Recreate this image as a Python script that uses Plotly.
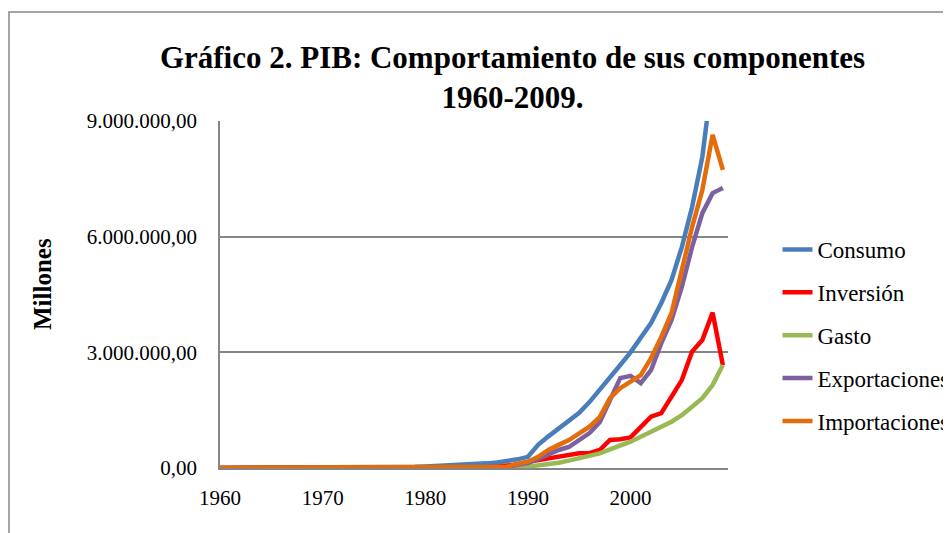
import plotly.graph_objects as go

years = list(range(1960, 2010))

consumo = [1500, 1700, 2000, 2300, 2700, 3100, 3500, 4000, 4500, 5100,
           5800, 6700, 7800, 9500, 12000, 14500, 17500, 21000, 25000, 31000,
           40000, 50000, 62000, 75000, 88000, 100000, 120000, 145000, 180000, 225000,
           290000, 600000, 820000, 1020000, 1200000, 1430000, 1710000, 2020000, 2330000, 2670000,
           3000000, 3400000, 3760000, 4280000, 4880000, 5730000, 6770000, 8070000, 10200000, 10800000]

inversion = [400, 450, 500, 550, 620, 700, 780, 870, 960, 1060,
             1200, 1400, 1650, 2000, 2600, 3300, 4200, 5200, 6200, 7000,
             8000, 9000, 10000, 11000, 13000, 16000, 22000, 35000, 55000, 90000,
             160000, 207000, 250000, 293000, 337000, 380000, 385000, 467000, 726000, 744000,
             795000, 1070000, 1330000, 1420000, 1850000, 2280000, 3020000, 3320000, 4030000, 2670000]

gasto = [300, 330, 360, 400, 440, 480, 530, 580, 640, 700,
         780, 870, 980, 1150, 1400, 1700, 2000, 2400, 2800, 3200,
         3800, 4400, 5000, 5600, 6300, 7200, 8500, 11000, 15000, 22000,
         35000, 60000, 95000, 138000, 190000, 250000, 311000, 380000, 484000, 570000,
         683000, 812000, 941000, 1060000, 1200000, 1370000, 1590000, 1810000, 2150000, 2670000]

exportaciones = [800, 850, 900, 950, 1000, 1050, 1100, 1150, 1250, 1350,
                 1500, 1800, 2000, 2800, 5500, 5000, 5200, 5600, 5400, 7500,
                 10000, 10500, 9000, 9000, 14000, 15500, 12000, 20000, 25000, 85000,
                 130000, 233000, 363000, 467000, 545000, 726000, 907000, 1190000, 1760000, 2330000,
                 2390000, 2200000, 2540000, 3240000, 3840000, 4700000, 5730000, 6610000, 7130000, 7260000]

importaciones = [600, 650, 700, 750, 800, 850, 900, 950, 1050, 1150,
                 1300, 1500, 1750, 2200, 3000, 3800, 4800, 6200, 7500, 8000,
                 9000, 10500, 12000, 10000, 12000, 14000, 18000, 25000, 35000, 110000,
                 163000, 290000, 467000, 600000, 726000, 900000, 1070000, 1320000, 1810000, 2070000,
                 2230000, 2410000, 2850000, 3400000, 4020000, 5130000, 6250000, 7210000, 8640000, 7730000]

series = [
    ("Consumo", consumo, "#4A7EBB"),
    ("Inversión", inversion, "#FF0000"),
    ("Gasto", gasto, "#98B954"),
    ("Exportaciones", exportaciones, "#7D60A0"),
    ("Importaciones", importaciones, "#E46C0A"),
]

y_ticks = [0, 3000000, 6000000, 9000000]
y_ticktext = ["0,00", "3.000.000,00", "6.000.000,00", "9.000.000,00"]
x_ticks = [1960, 1970, 1980, 1990, 2000]

font_family = "Liberation Serif, DejaVu Serif, serif"

# figure sized to the viewport minus the 8px page margin
W, H = 943, 525
# plot area in figure px
L, T, PW, PH = 212, 113, 508, 347

fig = go.Figure()
for i, (name, vals, color) in enumerate(series):
    fig.add_trace(go.Scatter(
        x=years, y=vals, mode="lines", name=name,
        line=dict(color=color, width=4.5), legendgroup=f"g{i}",
    ))

fig.update_layout(
    width=W, height=H,
    margin=dict(l=L, r=W - L - PW, t=T, b=H - T - PH, autoexpand=False),
    paper_bgcolor="white", plot_bgcolor="white",
    font=dict(family=font_family, color="black", size=21),
    title=dict(
        text="<b>Gráfico 2. PIB: Comportamiento de sus componentes<br>1960-2009.</b>",
        x=504.5 / W, xanchor="center", xref="container",
        y=1 - 60 / H, yanchor="top", yref="container",
        font=dict(size=31, family=font_family, color="black"),
    ),
    showlegend=True,
    legend=dict(
        x=(769.5 - L) / PW, xanchor="left", y=0.382, yanchor="middle",
        font=dict(size=23, family=font_family, color="black"),
        tracegroupgap=10, bgcolor="rgba(0,0,0,0)",
    ),
    xaxis=dict(
        range=[1960, 2009.5], tickmode="array", tickvals=x_ticks,
        showgrid=False, zeroline=False, showline=True, linecolor="#868686", linewidth=1.5,
        ticks="", ticklabelstandoff=10, tickfont=dict(size=21),
    ),
    yaxis=dict(
        range=[0, 9000000], tickmode="array", tickvals=y_ticks, ticktext=y_ticktext,
        showgrid=True, gridcolor="#868686", gridwidth=1.5, zeroline=False,
        showline=True, linecolor="#868686", linewidth=1.5, ticks="",
        ticklabelstandoff=17, tickfont=dict(size=21),
    ),
)

fig.add_annotation(
    text="<b>Millones</b>", textangle=-90, showarrow=False,
    xref="paper", yref="paper", x=(34.5 - L) / PW, y=(T + PH - 276.5) / PH,
    xanchor="center", yanchor="middle",
    font=dict(size=25, family=font_family, color="black"),
)

fig.add_shape(type="rect", xref="paper", yref="paper",
              x0=(1 - L) / PW, x1=2.0, y0=(T + PH - 4) / PH, y1=-1.0,
              line=dict(color="#888888", width=1.5), fillcolor="rgba(0,0,0,0)", layer="below")

fig.write_html("out.html")
